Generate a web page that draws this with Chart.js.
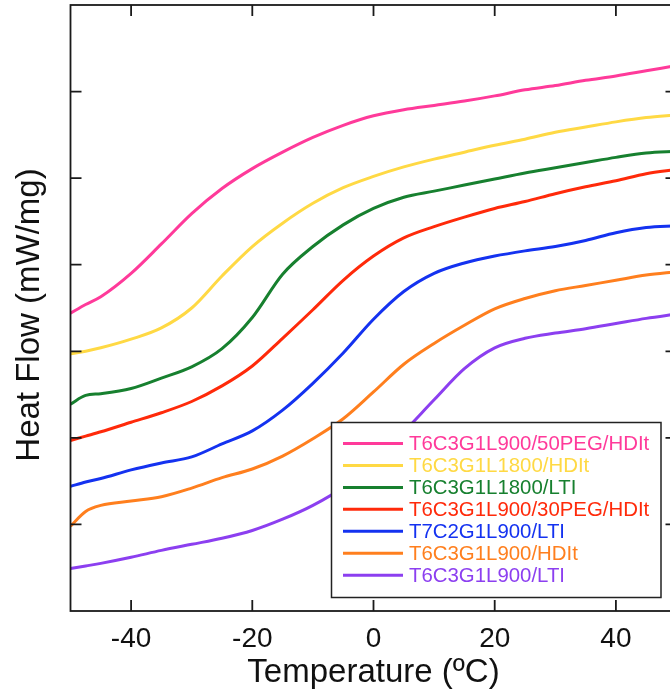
<!DOCTYPE html>
<html>
<head>
<meta charset="utf-8">
<script src="https://cdn.jsdelivr.net/npm/chart.js@4.4.1/dist/chart.umd.min.js"></script>
<style>
  html, body { margin: 0; padding: 0; background: #fff; overflow: hidden; }
  #wrap { width: 670px; height: 696px; overflow: hidden; }
</style>
</head>
<body>
<div id="wrap"><canvas id="chart" width="700" height="696"></canvas></div>
<script>
// DSC traces, heat flow offset per sample (arbitrary units)
const temps = [-50, -47.5, -45, -40, -35, -30, -25, -20, -15, -10, -5, 0, 5, 10, 15, 20, 25, 30, 35, 40, 45, 50];

const peg50Hdit  = [3.44, 3.54, 3.63, 3.90, 4.24, 4.59, 4.88, 5.11, 5.30, 5.47, 5.61, 5.72, 5.79, 5.84, 5.89, 5.95, 6.02, 6.07, 6.13, 6.18, 6.24, 6.30];
const l1800Hdit  = [2.97, 3.00, 3.04, 3.14, 3.27, 3.50, 3.87, 4.21, 4.48, 4.71, 4.89, 5.02, 5.13, 5.22, 5.30, 5.38, 5.45, 5.53, 5.59, 5.65, 5.70, 5.73];
const l1800Lti   = [2.39, 2.49, 2.51, 2.57, 2.69, 2.82, 3.03, 3.39, 3.89, 4.21, 4.46, 4.65, 4.78, 4.85, 4.92, 4.99, 5.06, 5.12, 5.18, 5.24, 5.29, 5.31];
const peg30Hdit  = [1.97, 2.02, 2.07, 2.18, 2.29, 2.42, 2.60, 2.83, 3.15, 3.48, 3.82, 4.10, 4.31, 4.44, 4.55, 4.65, 4.73, 4.82, 4.90, 4.97, 5.05, 5.10];
const t7c2Lti    = [1.44, 1.49, 1.53, 1.63, 1.71, 1.78, 1.93, 2.08, 2.32, 2.63, 2.98, 3.37, 3.69, 3.90, 4.02, 4.10, 4.16, 4.21, 4.28, 4.37, 4.43, 4.45];
const l900Hdit   = [0.98, 1.15, 1.22, 1.27, 1.32, 1.42, 1.54, 1.64, 1.79, 1.99, 2.22, 2.53, 2.85, 3.09, 3.30, 3.49, 3.61, 3.70, 3.76, 3.82, 3.88, 3.92];
const l900Lti    = [0.49, 0.52, 0.55, 0.62, 0.70, 0.77, 0.84, 0.93, 1.06, 1.22, 1.43, 1.73, 2.07, 2.44, 2.80, 3.04, 3.15, 3.21, 3.26, 3.32, 3.38, 3.43];

const seriesNames  = ['T6C3G1L900/50PEG/HDIt', 'T6C3G1L1800/HDIt', 'T6C3G1L1800/LTI', 'T6C3G1L900/30PEG/HDIt', 'T7C2G1L900/LTI', 'T6C3G1L900/HDIt', 'T6C3G1L900/LTI'];
const seriesValues = [peg50Hdit, l1800Hdit, l1800Lti, peg30Hdit, t7c2Lti, l900Hdit, l900Lti];
const seriesColors = ['#ff3a9a', '#ffd944', '#17802f', '#ff2a0a', '#1432f0', '#ff7f1e', '#8c3ff0'];

const xTicks = [-40, -20, 0, 20, 40];
const yTicks = [1, 2, 3, 4, 5, 6];

const FONT = "'Liberation Sans', Arial, sans-serif";

// frame + inward tick marks on all four sides
const framePlugin = {
    id: 'frame',
    afterDatasetsDraw(chart) {
        const { ctx, chartArea: a, scales } = chart;
        const len = 11;
        ctx.save();
        ctx.strokeStyle = '#1a1a1a';
        ctx.lineWidth = 1.8;
        ctx.strokeRect(a.left, a.top, a.right - a.left, a.bottom - a.top);
        ctx.beginPath();
        xTicks.forEach(v => {
            const x = scales.x.getPixelForValue(v);
            ctx.moveTo(x, a.bottom); ctx.lineTo(x, a.bottom - len);
            ctx.moveTo(x, a.top);    ctx.lineTo(x, a.top + len);
        });
        yTicks.forEach(v => {
            const y = scales.y.getPixelForValue(v);
            ctx.moveTo(a.left, y);  ctx.lineTo(a.left + len, y);
            ctx.moveTo(a.right, y); ctx.lineTo(a.right - len, y);
        });
        ctx.stroke();

        // y axis title, sits a little below the plot's middle
        ctx.translate(29.5, 315);
        ctx.rotate(-Math.PI / 2);
        ctx.font = '33px ' + FONT;
        ctx.fillStyle = '#111';
        ctx.textAlign = 'center';
        ctx.textBaseline = 'middle';
        ctx.fillText('Heat Flow (mW/mg)', 0, 0);
        ctx.restore();
    }
};

// boxed legend sitting inside the plot, lower right
const boxLegend = {
    id: 'boxLegend',
    afterDatasetsDraw(chart) {
        const ctx = chart.ctx;
        const box = { x: 331.5, y: 422.5, w: 329.5, h: 175 };
        const rowH = 21.95;
        ctx.save();
        ctx.fillStyle = '#fff';
        ctx.fillRect(box.x, box.y, box.w, box.h);
        ctx.strokeStyle = '#222';
        ctx.lineWidth = 1.5;
        ctx.strokeRect(box.x, box.y, box.w, box.h);
        ctx.font = '20.4px ' + FONT;
        ctx.textBaseline = 'middle';
        chart.data.datasets.forEach((ds, i) => {
            const y = box.y + 21 + i * rowH;
            ctx.strokeStyle = ds.borderColor;
            ctx.lineWidth = 3;
            ctx.beginPath();
            ctx.moveTo(343, y);
            ctx.lineTo(403, y);
            ctx.stroke();
            ctx.fillStyle = ds.borderColor;
            ctx.fillText(ds.label, 409, y + 1);
        });
        ctx.restore();
    }
};

new Chart(document.getElementById('chart'), {
    type: 'line',
    data: {
        datasets: seriesNames.map((name, i) => ({
            label: name,
            data: temps.map((t, j) => ({ x: t, y: seriesValues[i][j] })),
            borderColor: seriesColors[i],
            borderWidth: 3,
            pointRadius: 0,
            cubicInterpolationMode: 'monotone',
            fill: false
        }))
    },
    options: {
        responsive: false,
        animation: false,
        layout: { padding: { top: 5, right: 23.5, bottom: 0, left: 0 } },
        plugins: { legend: { display: false }, tooltip: { enabled: false } },
        scales: {
            x: {
                type: 'linear',
                min: -50,
                max: 50,
                afterBuildTicks: s => { s.ticks = xTicks.map(v => ({ value: v })); },
                afterFit: s => { s.height = 85; },
                grid: { display: false, drawTicks: false },
                border: { display: false },
                ticks: { color: '#111', padding: 11, maxRotation: 0, font: { family: FONT, size: 28 } },
                title: {
                    display: true,
                    text: 'Temperature (ºC)',
                    color: '#111',
                    font: { family: FONT, size: 33 },
                    padding: { top: 0, bottom: 3 }
                }
            },
            y: {
                min: 0,
                max: 7,
                afterBuildTicks: s => { s.ticks = yTicks.map(v => ({ value: v })); },
                afterFit: s => { s.width = 70.5; },
                grid: { display: false, drawTicks: false },
                border: { display: false },
                ticks: { display: false },
                title: { display: false }
            }
        }
    },
    plugins: [framePlugin, boxLegend]
});
</script>
</body>
</html>
